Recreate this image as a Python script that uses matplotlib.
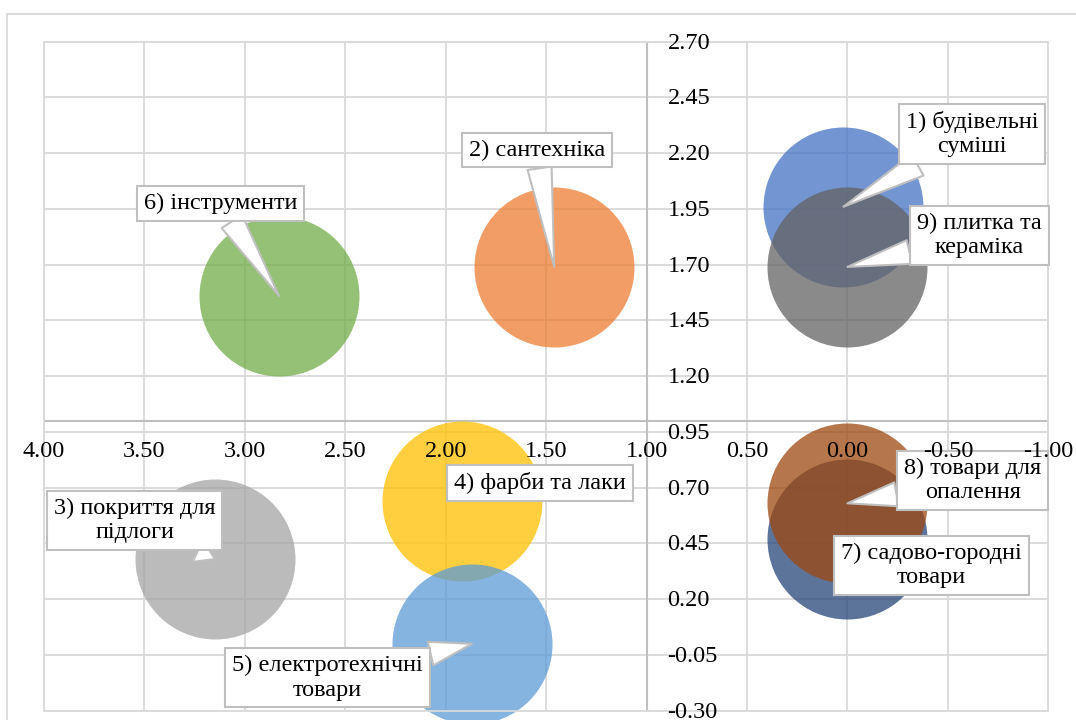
import numpy as np
import matplotlib
matplotlib.use("Agg")
import matplotlib.pyplot as plt
from matplotlib.patches import Rectangle

# ---------------------------------------------------------------------------
# Data
# ---------------------------------------------------------------------------
labels = [
    "1) будівельні\nсуміші",
    "2) сантехніка",
    "3) покриття для\nпідлоги",
    "4) фарби та лаки",
    "5) електротехнічні\nтовари",
    "6) інструменти",
    "7) садово-городні\nтовари",
    "8) товари для\nопалення",
    "9) плитка та\nкераміка",
]
x_vals = [0.02, 1.46, 3.15, 1.92, 1.87, 2.83, 0.00, 0.00, 0.00]
y_vals = [1.96, 1.69, 0.38, 0.64, 0.00, 1.56, 0.47, 0.63, 1.69]
bubble_sizes = [1.0, 1.0, 1.0, 1.0, 1.0, 1.0, 1.0, 1.0, 1.0]

x_ticks = [4.0, 3.5, 3.0, 2.5, 2.0, 1.5, 1.0, 0.5, 0.0, -0.5, -1.0]
y_ticks = [-0.30, -0.05, 0.20, 0.45, 0.70, 0.95, 1.20, 1.45, 1.70, 1.95, 2.20, 2.45, 2.70]

# ---------------------------------------------------------------------------
# Styling / layout
# ---------------------------------------------------------------------------
colors = ["#4472C4", "#ED7D31", "#A5A5A5", "#FFC000", "#5B9BD5",
          "#70AD47", "#264478", "#9E480E", "#636363"]
# callout box centres (data coords)
label_pos = [(-0.62, 2.285), (1.546, 2.214), (3.548, 0.552), (1.531, 0.722),
             (2.588, -0.153), (3.122, 1.975), (-0.419, 0.351), (-0.623, 0.733),
             (-0.657, 1.832)]

FONT = "Liberation Serif"
FS = 17.5
GRID_C = "#D9D9D9"
AXIS_C = "#BFBFBF"

W, H = 1076, 720
fig = plt.figure(figsize=(W / 100, H / 100), dpi=100)
fig.patch.set_facecolor("white")

# outer chart-area border (cut by the image edge)
fig.patches.append(Rectangle((7 / W, -0.1), 1.2, 1 - 13.5 / H + 0.1,
                             transform=fig.transFigure, fill=False,
                             ec=GRID_C, lw=1.3))

left, right = 44 / W, 1048.3 / W
bottom, top = 1 - 710.7 / H, 1 - 41.7 / H
ax = fig.add_axes([left, bottom, right - left, top - bottom])
ax.set_xlim(4.0, -1.0)
ax.set_ylim(-0.30, 2.70)
ax.set_xticks(x_ticks)
ax.set_yticks(y_ticks)
ax.tick_params(length=0, labelbottom=False, labelleft=False)
ax.grid(True, color=GRID_C, lw=1.3)
ax.set_axisbelow(True)
for sp in ax.spines.values():
    sp.set_color(GRID_C)
    sp.set_linewidth(1.3)

# axes cross at (1, 1)
ax.axvline(1.0, color=AXIS_C, lw=1.5, zorder=1)
ax.axhline(1.0, color=AXIS_C, lw=1.5, zorder=1)

# tick labels next to the crossing axes (drawn above the callouts)
for xv in x_ticks:
    ax.annotate(f"{xv:.2f}", (xv, 1.0), xytext=(0, -26),
                textcoords="offset points", ha="center", va="baseline",
                fontsize=FS, family=FONT, annotation_clip=False, zorder=6)
for yv in y_ticks:
    ax.annotate(f"{yv:.2f}", (1.0, yv), xytext=(15, -1),
                textcoords="offset points", ha="left", va="center",
                fontsize=FS, family=FONT, annotation_clip=False, zorder=6)

# bubbles: 160 px diameter at size 1.0
diam_pt = 160 * 72 / 100
for i in range(len(labels)):
    ax.scatter([x_vals[i]], [y_vals[i]], s=bubble_sizes[i] * diam_pt ** 2,
               color=colors[i], alpha=0.75, linewidths=0, zorder=2,
               clip_on=False)

# wedge callouts
for i, lab in enumerate(labels):
    ax.annotate(
        lab, (x_vals[i], y_vals[i]), xytext=label_pos[i],
        textcoords="data", ha="center", va="center", multialignment="center",
        fontsize=FS, family=FONT, zorder=5, annotation_clip=False,
        bbox=dict(boxstyle="square,pad=0.28", fc="white", ec=AXIS_C, lw=1.5),
        arrowprops=dict(arrowstyle="wedge,tail_width=1.0,shrink_factor=0.5",
                        fc="white", ec=AXIS_C, lw=1.5,
                        shrinkA=0, shrinkB=0),
    )

fig.savefig("out.png", dpi=100, facecolor="white")
